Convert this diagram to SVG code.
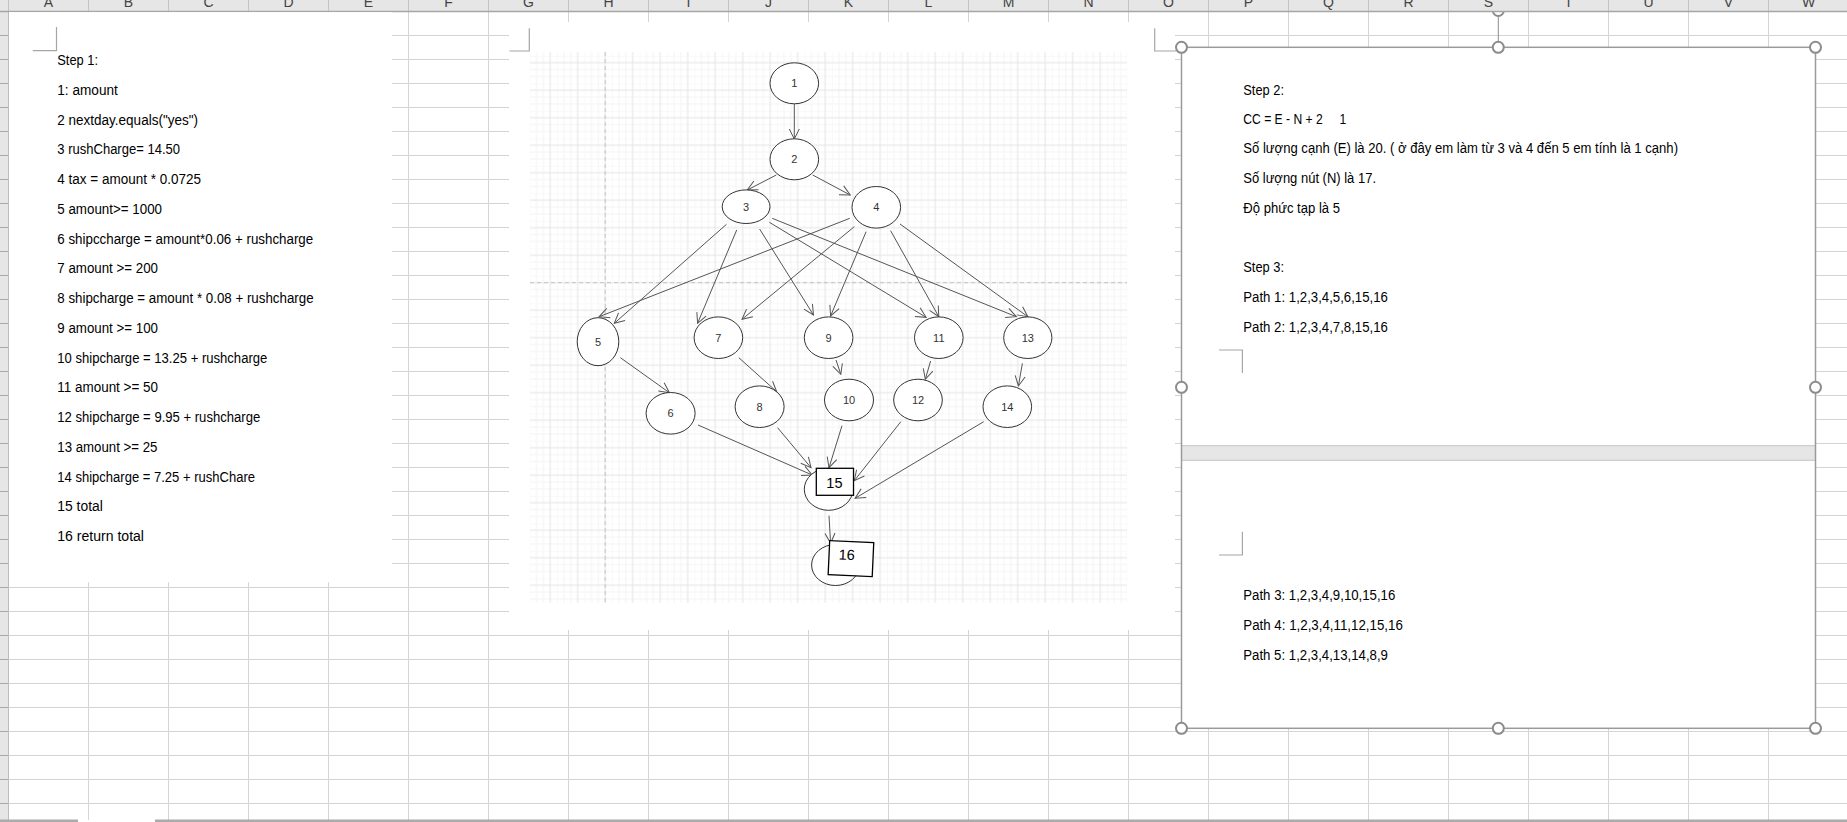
<svg xmlns="http://www.w3.org/2000/svg" width="1847" height="822" viewBox="0 0 1847 822">
  <defs>
    <style>
      .t { font-family: "Liberation Sans", Arial, sans-serif; font-size: 14px; fill: #000; }
      .hdr { font-family: "Liberation Sans", Arial, sans-serif; font-size: 14px; fill: #444; text-anchor: middle; }
      .lbl { font-family: "Liberation Sans", Arial, sans-serif; font-size: 11px; fill: #333; text-anchor: middle; }
      .big { font-family: "Liberation Sans", Arial, sans-serif; font-size: 14.5px; fill: #000; text-anchor: middle; }
      .node { fill: #fff; stroke: #333; stroke-width: 1; }
      .box { fill: #fff; stroke: #000; stroke-width: 1.3; }
      .edge { fill: none; stroke: #555; stroke-width: 1; marker-end: url(#open); }
      .mark { fill: none; stroke: #a6a6a6; stroke-width: 1.2; }
      .handle { fill: #fff; stroke: #8c8c8c; stroke-width: 2; }
    </style>
    <!-- worksheet cell lines: 80 px columns, 24 px rows -->
    <pattern id="cells" x="88" y="35" width="80" height="24" patternUnits="userSpaceOnUse">
      <rect width="1" height="24" fill="#d4d4d4"/>
      <rect width="80" height="1" fill="#d4d4d4"/>
    </pattern>
    <pattern id="rowhdr" x="0" y="35" width="9" height="24" patternUnits="userSpaceOnUse">
      <rect width="9" height="24" fill="#e6e6e6"/>
      <rect width="9" height="1" fill="#a8a8a8"/>
    </pattern>
    <pattern id="colhdr" x="88" y="0" width="80" height="11" patternUnits="userSpaceOnUse">
      <rect width="80" height="11" fill="#e6e6e6"/>
      <rect width="1" height="11" fill="#c4c4c4"/>
    </pattern>
    <!-- drawing-canvas grid: minor 6.875, major 27.5 -->
    <pattern id="dgrid" x="529.575" y="55.825" width="27.5" height="27.5" patternUnits="userSpaceOnUse">
      <g stroke="#f4f4f4" stroke-width="1">
        <line x1="0" y1="0" x2="0" y2="27.5"/>
        <line x1="6.875" y1="0" x2="6.875" y2="27.5"/>
        <line x1="13.75" y1="0" x2="13.75" y2="27.5"/>
        <line x1="0" y1="0" x2="27.5" y2="0"/>
        <line x1="0" y1="13.75" x2="27.5" y2="13.75"/>
        <line x1="0" y1="20.625" x2="27.5" y2="20.625"/>
      </g>
      <g stroke="#e4e4e4" stroke-width="1">
        <line x1="20.625" y1="0" x2="20.625" y2="27.5"/>
        <line x1="0" y1="6.875" x2="27.5" y2="6.875"/>
      </g>
    </pattern>
    <marker id="open" viewBox="0 0 12 12" refX="11" refY="6" markerWidth="12" markerHeight="12" markerUnits="userSpaceOnUse" orient="auto">
      <path d="M1,1 L11,6 L1,11" fill="none" stroke="#555" stroke-width="1"/>
    </marker>
  </defs>

  <!-- sheet background and cell grid -->
  <rect width="1847" height="822" fill="#fff"/>
  <rect x="8.5" y="11" width="1838.5" height="809" fill="url(#cells)"/>
  <rect x="0" y="11" width="8.5" height="809" fill="url(#rowhdr)"/>
  <line x1="8.5" y1="11" x2="8.5" y2="820" stroke="#bdbdbd" stroke-width="1"/>

  <!-- rotation handle of the selected text box (mostly hidden behind the column header) -->
  <circle cx="1498.3" cy="10.5" r="5.5" fill="none" stroke="#8c8c8c" stroke-width="2"/>

  <!-- column header -->
  <g id="column-header">
    <rect x="0" y="0" width="1847" height="11" fill="url(#colhdr)"/>
    <line x1="0" y1="11.5" x2="1847" y2="11.5" stroke="#a6a6a6" stroke-width="1.5"/>
    <text class="hdr" x="48.5" y="6.5">A</text>
    <text class="hdr" x="128.5" y="6.5">B</text>
    <text class="hdr" x="208.5" y="6.5">C</text>
    <text class="hdr" x="288.5" y="6.5">D</text>
    <text class="hdr" x="368.5" y="6.5">E</text>
    <text class="hdr" x="448.5" y="6.5">F</text>
    <text class="hdr" x="528.5" y="6.5">G</text>
    <text class="hdr" x="608.5" y="6.5">H</text>
    <text class="hdr" x="688.5" y="6.5">I</text>
    <text class="hdr" x="768.5" y="6.5">J</text>
    <text class="hdr" x="848.5" y="6.5">K</text>
    <text class="hdr" x="928.5" y="6.5">L</text>
    <text class="hdr" x="1008.5" y="6.5">M</text>
    <text class="hdr" x="1088.5" y="6.5">N</text>
    <text class="hdr" x="1168.5" y="6.5">O</text>
    <text class="hdr" x="1248.5" y="6.5">P</text>
    <text class="hdr" x="1328.5" y="6.5">Q</text>
    <text class="hdr" x="1408.5" y="6.5">R</text>
    <text class="hdr" x="1488.5" y="6.5">S</text>
    <text class="hdr" x="1568.5" y="6.5">T</text>
    <text class="hdr" x="1648.5" y="6.5">U</text>
    <text class="hdr" x="1728.5" y="6.5">V</text>
    <text class="hdr" x="1808.5" y="6.5">W</text>
  </g>

  <!-- Step 1 text box -->
  <g id="step1">
    <rect x="9" y="12.2" width="383" height="570" fill="#fff"/>
    <path class="mark" d="M32.8,50.7 H56.5 V27"/>
    <text class="t" x="57.3" y="65" textLength="40.7" lengthAdjust="spacingAndGlyphs">Step 1:</text>
    <text class="t" x="57.3" y="94.8" textLength="60.5" lengthAdjust="spacingAndGlyphs">1: amount</text>
    <text class="t" x="57.3" y="124.5" textLength="140.7" lengthAdjust="spacingAndGlyphs">2 nextday.equals("yes")</text>
    <text class="t" x="57.3" y="154.3" textLength="122.7" lengthAdjust="spacingAndGlyphs">3 rushCharge= 14.50</text>
    <text class="t" x="57.3" y="184" textLength="143.6" lengthAdjust="spacingAndGlyphs">4 tax = amount * 0.0725</text>
    <text class="t" x="57.3" y="213.8" textLength="104.7" lengthAdjust="spacingAndGlyphs">5 amount&gt;= 1000</text>
    <text class="t" x="57.3" y="243.5" textLength="255.9" lengthAdjust="spacingAndGlyphs">6 shipccharge = amount*0.06 + rushcharge</text>
    <text class="t" x="57.3" y="273.3" textLength="100.7" lengthAdjust="spacingAndGlyphs">7 amount &gt;= 200</text>
    <text class="t" x="57.3" y="303" textLength="256.3" lengthAdjust="spacingAndGlyphs">8 shipcharge = amount * 0.08 + rushcharge</text>
    <text class="t" x="57.3" y="332.8" textLength="100.7" lengthAdjust="spacingAndGlyphs">9 amount &gt;= 100</text>
    <text class="t" x="57.3" y="362.5" textLength="210" lengthAdjust="spacingAndGlyphs">10 shipcharge = 13.25 + rushcharge</text>
    <text class="t" x="57.3" y="392.3" textLength="100.7" lengthAdjust="spacingAndGlyphs">11 amount &gt;= 50</text>
    <text class="t" x="57.3" y="422" textLength="202.9" lengthAdjust="spacingAndGlyphs">12 shipcharge = 9.95 + rushcharge</text>
    <text class="t" x="57.3" y="451.8" textLength="100.1" lengthAdjust="spacingAndGlyphs">13 amount &gt;= 25</text>
    <text class="t" x="57.3" y="481.5" textLength="197.7" lengthAdjust="spacingAndGlyphs">14 shipcharge = 7.25 + rushChare</text>
    <text class="t" x="57.3" y="511.3" textLength="45.5" lengthAdjust="spacingAndGlyphs">15 total</text>
    <text class="t" x="57.3" y="541" textLength="86.7" lengthAdjust="spacingAndGlyphs">16 return total</text>
  </g>

  <!-- flow-graph text box -->
  <g id="graph-frame">
    <rect x="509" y="22" width="666" height="608" fill="#fff"/>
    <path class="mark" d="M509.4,51 H529.3 V28.3"/>
    <rect x="530" y="52" width="597" height="551" fill="url(#dgrid)"/>
    <line x1="605.2" y1="52" x2="605.2" y2="603" stroke="#c4c4c4" stroke-width="1" stroke-dasharray="4 3"/>
    <line x1="530" y1="282.7" x2="1127" y2="282.7" stroke="#c4c4c4" stroke-width="1" stroke-dasharray="4 3"/>
  </g>

  <!-- control-flow edges -->
  <g id="connectors">
    <line class="edge" x1="794.3" y1="104" x2="794.3" y2="139"/>
    <line class="edge" x1="776.3" y1="175" x2="747.3" y2="190"/>
    <line class="edge" x1="812.7" y1="175" x2="850.2" y2="195"/>
    <line class="edge" x1="726.5" y1="224.3" x2="614.3" y2="323.3"/>
    <line class="edge" x1="736.7" y1="230" x2="697.6" y2="323.3"/>
    <line class="edge" x1="759.6" y1="229" x2="813.5" y2="315"/>
    <line class="edge" x1="769.4" y1="222.3" x2="926.1" y2="317.3"/>
    <line class="edge" x1="772.2" y1="218.3" x2="1016.3" y2="316.7"/>
    <line class="edge" x1="849.8" y1="218.3" x2="599.2" y2="316.7"/>
    <line class="edge" x1="854.3" y1="226.7" x2="742" y2="319.3"/>
    <line class="edge" x1="866.1" y1="231.7" x2="830.6" y2="316"/>
    <line class="edge" x1="890.6" y1="230.7" x2="938.8" y2="316.7"/>
    <line class="edge" x1="900" y1="224" x2="1027.8" y2="316.7"/>
    <line class="edge" x1="620.4" y1="357.7" x2="669.4" y2="392.7"/>
    <line class="edge" x1="738.8" y1="357.7" x2="776.7" y2="391.7"/>
    <line class="edge" x1="836" y1="360" x2="840.8" y2="374.3"/>
    <line class="edge" x1="930.6" y1="361" x2="925.3" y2="379.3"/>
    <line class="edge" x1="1022.4" y1="363.3" x2="1018.4" y2="386"/>
    <line class="edge" x1="698" y1="425" x2="812.2" y2="475"/>
    <line class="edge" x1="777.6" y1="427.7" x2="811" y2="467.7"/>
    <line class="edge" x1="842" y1="425.7" x2="829" y2="467.7"/>
    <line class="edge" x1="900.8" y1="421.7" x2="854.3" y2="480.7"/>
    <line class="edge" x1="983.7" y1="421.7" x2="855.1" y2="498.3"/>
    <line class="edge" x1="829" y1="515.7" x2="830.6" y2="543.3"/>
  </g>

  <!-- graph nodes -->
  <g id="n1"><ellipse class="node" cx="794.3" cy="83.3" rx="24.3" ry="20.5"/><text class="lbl" x="794.3" y="87.3">1</text></g>
  <g id="n2"><ellipse class="node" cx="794.3" cy="159.3" rx="24.3" ry="20.5"/><text class="lbl" x="794.3" y="163.3">2</text></g>
  <g id="n3"><ellipse class="node" cx="746.1" cy="206.7" rx="23.9" ry="16.8"/><text class="lbl" x="746.1" y="210.7">3</text></g>
  <g id="n4"><ellipse class="node" cx="876.3" cy="207.3" rx="24.3" ry="20.8"/><text class="lbl" x="876.3" y="211.3">4</text></g>
  <g id="n5"><ellipse class="node" cx="598" cy="341.7" rx="20.8" ry="24"/><text class="lbl" x="598" y="345.7">5</text></g>
  <g id="n6"><ellipse class="node" cx="670.6" cy="413.3" rx="24.5" ry="20.8"/><text class="lbl" x="670.6" y="417.3">6</text></g>
  <g id="n7"><ellipse class="node" cx="718.4" cy="337.7" rx="24.3" ry="20.8"/><text class="lbl" x="718.4" y="341.7">7</text></g>
  <g id="n8"><ellipse class="node" cx="759.6" cy="406.7" rx="24.5" ry="20.8"/><text class="lbl" x="759.6" y="410.7">8</text></g>
  <g id="n9"><ellipse class="node" cx="828.6" cy="337.7" rx="24.3" ry="20.8"/><text class="lbl" x="828.6" y="341.7">9</text></g>
  <g id="n10"><ellipse class="node" cx="849" cy="400" rx="24.5" ry="20.8"/><text class="lbl" x="849" y="404">10</text></g>
  <g id="n11"><ellipse class="node" cx="938.8" cy="337.7" rx="24.3" ry="20.8"/><text class="lbl" x="938.8" y="341.7">11</text></g>
  <g id="n12"><ellipse class="node" cx="918" cy="400" rx="24.3" ry="20.8"/><text class="lbl" x="918" y="404">12</text></g>
  <g id="n13"><ellipse class="node" cx="1027.8" cy="337.7" rx="24.1" ry="20.8"/><text class="lbl" x="1027.8" y="341.7">13</text></g>
  <g id="n14"><ellipse class="node" cx="1007.3" cy="406.7" rx="24.3" ry="20.8"/><text class="lbl" x="1007.3" y="410.7">14</text></g>
  <g id="n15">
    <ellipse class="node" cx="828.6" cy="489.3" rx="24.3" ry="21"/>
    <rect class="box" x="816.3" y="468.3" width="37.2" height="27"/>
    <text class="big" x="834.4" y="487.7">15</text>
  </g>
  <g id="n16">
    <ellipse class="node" cx="835.5" cy="565" rx="23.9" ry="20.5"/>
    <rect class="box" x="828.9" y="541.6" width="44.1" height="34" transform="rotate(2.6 851 558.6)"/>
    <text class="big" x="846.6" y="560" transform="rotate(2.6 851 558.6)">16</text>
  </g>

  <!-- text-area mark belonging to the selected box -->
  <path class="mark" d="M1154.7,28.3 V51 H1176"/>

  <!-- Step 2 / Step 3 text box (selected) -->
  <g id="step2-3">
    <rect x="1181.5" y="47.3" width="634" height="681" fill="#fff"/>
    <rect x="1182" y="445.7" width="633" height="14.6" fill="#e6e6e6"/>
    <line x1="1182" y1="445.7" x2="1815" y2="445.7" stroke="#c4c4c4" stroke-width="1"/>
    <line x1="1182" y1="460.3" x2="1815" y2="460.3" stroke="#c4c4c4" stroke-width="1"/>
    <path class="mark" d="M1219,350 H1242.4 V373"/>
    <path class="mark" d="M1242.4,531.7 V555 H1219"/>
    <text class="t" x="1243.3" y="95" textLength="40.7" lengthAdjust="spacingAndGlyphs">Step 2:</text>
    <text class="t" x="1243.3" y="124" textLength="102.9" lengthAdjust="spacingAndGlyphs" xml:space="preserve">CC = E - N + 2     1</text>
    <text class="t" x="1243.3" y="153.3" textLength="434.7" lengthAdjust="spacingAndGlyphs">Số lượng cạnh (E) là 20. ( ở đây em làm từ 3 và 4 đến 5 em tính là 1 cạnh)</text>
    <text class="t" x="1243.3" y="182.7" textLength="132.7" lengthAdjust="spacingAndGlyphs">Số lượng nút (N) là 17.</text>
    <text class="t" x="1243.3" y="212.7" textLength="96.7" lengthAdjust="spacingAndGlyphs">Độ phức tạp là 5</text>
    <text class="t" x="1243.3" y="272.3" textLength="40.7" lengthAdjust="spacingAndGlyphs">Step 3:</text>
    <text class="t" x="1243.3" y="301.7" textLength="144.6" lengthAdjust="spacingAndGlyphs">Path 1: 1,2,3,4,5,6,15,16</text>
    <text class="t" x="1243.3" y="331.5" textLength="144.6" lengthAdjust="spacingAndGlyphs">Path 2: 1,2,3,4,7,8,15,16</text>
    <text class="t" x="1243.3" y="600" textLength="152" lengthAdjust="spacingAndGlyphs">Path 3: 1,2,3,4,9,10,15,16</text>
    <text class="t" x="1243.3" y="630" textLength="159.5" lengthAdjust="spacingAndGlyphs">Path 4: 1,2,3,4,11,12,15,16</text>
    <text class="t" x="1243.3" y="659.5" textLength="144.6" lengthAdjust="spacingAndGlyphs">Path 5: 1,2,3,4,13,14,8,9</text>
    <rect x="1181.5" y="47.3" width="634" height="681" fill="none" stroke="#9a9a9a" stroke-width="1.5"/>
    <line x1="1498.3" y1="16.5" x2="1498.3" y2="41.5" stroke="#8c8c8c" stroke-width="1"/>
    <circle class="handle" cx="1181.5" cy="47.3" r="5.5"/>
    <circle class="handle" cx="1498.3" cy="47.3" r="5.5"/>
    <circle class="handle" cx="1815.5" cy="47.3" r="5.5"/>
    <circle class="handle" cx="1181.5" cy="387.3" r="5.5"/>
    <circle class="handle" cx="1815.5" cy="387.3" r="5.5"/>
    <circle class="handle" cx="1181.5" cy="728.3" r="5.5"/>
    <circle class="handle" cx="1498.3" cy="728.3" r="5.5"/>
    <circle class="handle" cx="1815.5" cy="728.3" r="5.5"/>
  </g>

  <!-- sheet tab strip -->
  <rect x="0" y="819.5" width="78" height="2.5" fill="#ababab"/>
  <rect x="155" y="819.5" width="1692" height="2.5" fill="#ababab"/>
</svg>
